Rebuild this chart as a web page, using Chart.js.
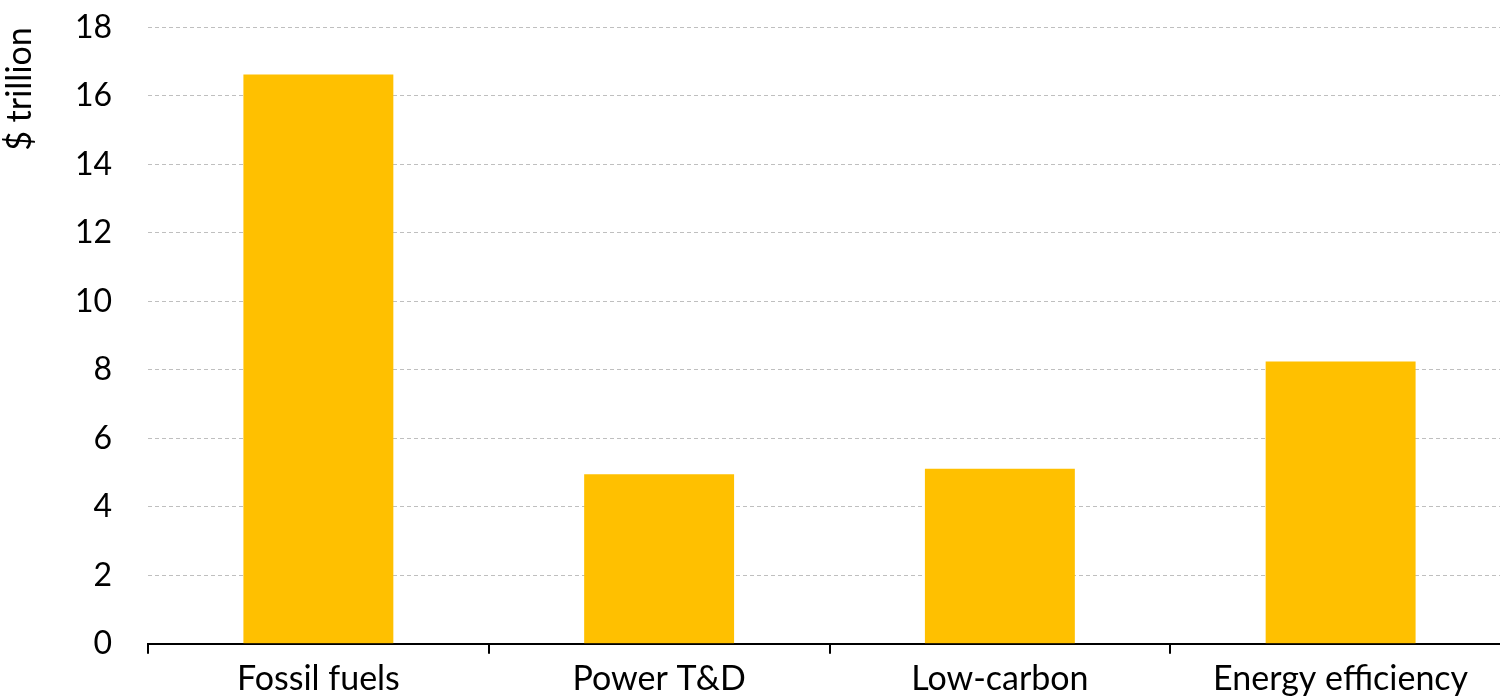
<!DOCTYPE html>
<html>
<head>
<meta charset="utf-8">
<script src="https://cdn.jsdelivr.net/npm/chart.js@4/dist/chart.umd.min.js"></script>
<style>
  html,body{margin:0;padding:0;background:#fff;overflow:hidden;}
  #wrap{position:relative;top:-28px;width:1511px;height:727px;}
</style>
</head>
<body>
<div id="wrap"><canvas id="c"></canvas></div>
<script>
const categories = ['Fossil fuels', 'Power T&D', 'Low-carbon', 'Energy efficiency'];
const investment = [16.62, 4.95, 5.11, 8.24];
const yTicks = [0, 2, 4, 6, 8, 10, 12, 14, 16, 18];

const font = {family: 'Lato, "Open Sans", sans-serif', size: 32};
const bigFont = {family: 'Lato, "Open Sans", sans-serif', size: 34};

new Chart(document.getElementById('c'), {
  type: 'bar',
  data: {
    labels: categories,
    datasets: [{data: investment, backgroundColor: '#FFC000', barPercentage: 0.88, categoryPercentage: 0.5}]
  },
  options: {
    responsive: true,
    maintainAspectRatio: false,
    animation: false,
    layout: {padding: 0},
    plugins: {legend: {display: false}, tooltip: {enabled: false}},
    scales: {
      x: {
        grid: {offset: true, drawOnChartArea: false, drawTicks: true, tickLength: 10, color: '#000', lineWidth: 2},
        border: {display: true, color: '#000', width: 2},
        ticks: {color: '#000', font: bigFont, padding: 5, maxRotation: 0},
        afterFit: s => { s.height = 55; }
      },
      y: {
        min: 0, max: 18,
        afterBuildTicks: s => { s.ticks = yTicks.map(v => ({value: v})); },
        grid: {color: '#BFBFBF', lineWidth: 1, drawTicks: false},
        border: {display: false, dash: [4, 3]},
        ticks: {color: '#000', font: font, padding: 36},
        title: {display: true, text: '$ trillion', align: 'end', color: '#000', font: bigFont, padding: {top: 0, bottom: 0}},
        afterFit: s => { s.width = 148; }
      }
    }
  }
});
</script>
</body>
</html>
